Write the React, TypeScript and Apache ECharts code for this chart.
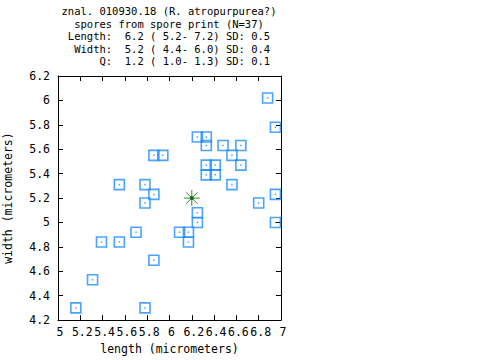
import { useEffect, useRef } from "react";
import * as echarts from "echarts";

const titleLines = [
  "znal. 010930.18 (R. atropurpurea?)",
  "spores from spore print (N=37)",
  "Length:  6.2 ( 5.2- 7.2) SD: 0.5",
  " Width:  5.2 ( 4.4- 6.0) SD: 0.4",
  "     Q:  1.2 ( 1.0- 1.3) SD: 0.1",
];

const sporeLength = [
  6.88, 6.95, 6.25, 6.33, 6.33, 6.48, 6.64, 6.56, 5.86, 5.94, 6.41, 6.33, 6.64,
  6.33, 6.41, 5.55, 5.78, 6.56, 6.95, 5.86, 5.78, 6.8, 6.25, 6.25, 6.95, 5.7,
  6.09, 6.17, 6.17, 5.39, 5.55, 5.86, 5.31, 5.16, 5.78,
];
const sporeWidth = [
  6.02, 5.78, 5.7, 5.7, 5.63, 5.63, 5.63, 5.55, 5.55, 5.55, 5.47, 5.47, 5.47,
  5.39, 5.39, 5.31, 5.31, 5.31, 5.23, 5.23, 5.16, 5.16, 5.08, 5.0, 5.0, 4.92,
  4.92, 4.92, 4.84, 4.84, 4.84, 4.69, 4.53, 4.3, 4.3,
];
const meanLength = 6.2;
const meanWidth = 5.2;

const xMin = 5, xMax = 7, xStep = 0.2;
const yMin = 4.2, yMax = 6.2, yStep = 0.2;

const FONT = "DejaVu Sans Mono";
const BLUE = "#1e8cff";
const GREEN = "#006400";

export default function App() {
  const ref = useRef<HTMLDivElement>(null);
  useEffect(() => {
    if (!ref.current) return;
    const chart = echarts.init(ref.current, null, { renderer: "svg" });
    const points = sporeLength.map((l, i) => [l, sporeWidth[i]]);
    const axisCommon = {
      type: "value" as const,
      axisLine: { show: true, lineStyle: { color: "#000", width: 1 } },
      axisTick: { show: true, inside: true, length: 5, lineStyle: { color: "#000" } },
      splitLine: { show: false },
    };
    const labelStyle = { fontFamily: FONT, fontSize: 11.5, color: "#000" };
    chart.setOption({
      animation: false,
      backgroundColor: "#fff",
      grid: { left: 58, right: 199, top: 76, bottom: 34, containLabel: false },
      graphic: titleLines.map((t, i) => ({
        type: "text",
        x: 169,
        y: 11 + i * 12.6,
        style: {
          text: t.replace(/ /g, "\u00a0"),
          fontFamily: FONT,
          fontSize: 10.5,
          fill: "#000",
          textAlign: "center",
          textVerticalAlign: "middle",
        },
      })),
      xAxis: [
        {
          ...axisCommon,
          position: "bottom",
          min: xMin,
          max: xMax,
          interval: xStep,
          axisLabel: { ...labelStyle, margin: 6, padding: [0, 0, 0, 4] },
          name: "length (micrometers)",
          nameLocation: "middle",
          nameGap: 21,
          nameTextStyle: labelStyle,
        },
        {
          ...axisCommon,
          position: "top",
          min: xMin,
          max: xMax,
          interval: xStep,
          axisLabel: { show: false },
        },
      ],
      yAxis: [
        {
          ...axisCommon,
          position: "left",
          min: yMin,
          max: yMax,
          interval: yStep,
          axisLabel: { ...labelStyle, margin: 8 },
          name: "width (micrometers)",
          nameLocation: "middle",
          nameRotate: 90,
          nameGap: 44,
          nameTextStyle: labelStyle,
        },
        {
          ...axisCommon,
          position: "right",
          min: yMin,
          max: yMax,
          interval: yStep,
          axisLabel: { show: false },
        },
      ],
      series: [
        {
          type: "scatter",
          data: points,
          symbol: "rect",
          symbolSize: 10,
          itemStyle: { color: "rgba(0,0,0,0)", borderColor: BLUE, borderWidth: 1.6 },
          silent: true,
          z: 2,
        },
        {
          type: "scatter",
          data: points,
          symbol: "rect",
          symbolSize: 1.5,
          itemStyle: { color: BLUE },
          silent: true,
          z: 3,
        },
        {
          type: "scatter",
          data: [[meanLength, meanWidth]],
          symbol:
            "path://M0,8L16,8M8,0L8,16M2.3,2.3L13.7,13.7M13.7,2.3L2.3,13.7",
          symbolSize: 16,
          itemStyle: { color: "rgba(0,0,0,0)", borderColor: GREEN, borderWidth: 1 },
          silent: true,
          z: 4,
        },
        {
          type: "scatter",
          data: [[meanLength, meanWidth]],
          symbol: "circle",
          symbolSize: 4,
          itemStyle: { color: GREEN },
          silent: true,
          z: 5,
        },
      ],
    });
    return () => chart.dispose();
  }, []);
  return (
    <div
      ref={ref}
      style={{ position: "fixed", left: 0, top: 0, width: 480, height: 360, background: "#fff" }}
    />
  );
}
